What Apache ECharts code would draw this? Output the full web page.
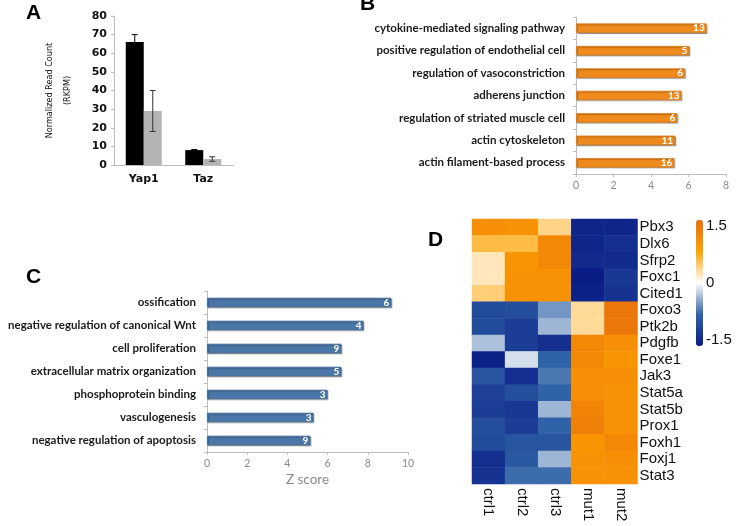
<!DOCTYPE html>
<html>
<head>
<meta charset="utf-8">
<script src="https://cdn.jsdelivr.net/npm/echarts@6/dist/echarts.min.js"></script>
<style>
  html, body { margin: 0; padding: 0; background: #fff; }
  #main { width: 736px; height: 526px; }
</style>
</head>
<body>
<div id="main"></div>
<script>
// Panel A: read counts
const genesA = ['Yap1', 'Taz']
const ctrlCounts = [66, 8]
const mutCounts = [29, 3.2]
const ctrlErr = [4, 0.3]
const mutErr = [11, 1.2]

// Panel B: GO terms (up), z score and gene counts
const termsB = ['cytokine-mediated signaling pathway', 'positive regulation of endothelial cell', 'regulation of vasoconstriction', 'adherens junction', 'regulation of striated muscle cell', 'actin cytoskeleton', 'actin filament-based process']
const zB = [6.97, 6.04, 5.81, 5.63, 5.40, 5.28, 5.24]
const countsB = [13, 5, 6, 13, 6, 11, 16]

// Panel C: GO terms (down)
const termsC = ['ossification', 'negative regulation of canonical Wnt', 'cell proliferation', 'extracellular matrix organization', 'phosphoprotein binding', 'vasculogenesis', 'negative regulation of apoptosis']
const zC = [9.17, 7.79, 6.68, 6.68, 6.0, 5.30, 5.14]
const countsC = [6, 4, 9, 5, 3, 3, 9]

// Panel D: heatmap
const samples = ['ctrl1', 'ctrl2', 'ctrl3', 'mut1', 'mut2']
const genesD = ['Pbx3', 'Dlx6', 'Sfrp2', 'Foxc1', 'Cited1', 'Foxo3', 'Ptk2b', 'Pdgfb', 'Foxe1', 'Jak3', 'Stat5a', 'Stat5b', 'Prox1', 'Foxh1', 'Foxj1', 'Stat3']
const heatValues = [
  [1.05, 1.0, 0.35, -1.4, -1.4],
  [0.55, 0.55, 1.15, -1.4, -1.3],
  [0.2, 0.95, 1.15, -1.35, -1.35],
  [0.2, 1.0, 1.0, -1.5, -1.2],
  [0.4, 1.0, 1.0, -1.45, -1.25],
  [-1.0, -0.95, -0.5, 0.3, 1.4],
  [-1.0, -1.15, -0.35, 0.3, 1.4],
  [-0.3, -1.15, -1.3, 1.15, 1.05],
  [-1.45, -0.15, -0.75, 1.15, 0.95],
  [-0.9, -1.3, -0.65, 1.05, 1.05],
  [-1.1, -0.95, -0.75, 1.05, 1.0],
  [-1.15, -1.2, -0.35, 1.2, 1.0],
  [-0.95, -1.15, -0.75, 1.25, 1.0],
  [-1.0, -0.9, -0.9, 0.95, 1.15],
  [-1.3, -0.85, -0.35, 1.0, 1.05],
  [-1.25, -0.7, -0.7, 1.0, 1.0]
]
const colorbarMin = -1.5
const colorbarMax = 1.5

const heatData = []
heatValues.forEach((row, r) => row.forEach((v, c) => heatData.push([c, r, v])))

const errCtrl = genesA.map((g, i) => [i, ctrlCounts[i] - ctrlErr[i], ctrlCounts[i] + ctrlErr[i]])
const errMut = genesA.map((g, i) => [i, mutCounts[i] - mutErr[i], mutCounts[i] + mutErr[i]])

function errorBar(offset, color) {
  return function (params, api) {
    const x = api.value(0)
    const lo = api.coord([x, api.value(1)])
    const hi = api.coord([x, api.value(2)])
    const cx = lo[0] + offset
    const cap = 3
    const style = { stroke: color, lineWidth: 1 }
    return {
      type: 'group',
      children: [
        { type: 'line', shape: { x1: cx, y1: lo[1], x2: cx, y2: hi[1] }, style },
        { type: 'line', shape: { x1: cx - cap, y1: lo[1], x2: cx + cap, y2: lo[1] }, style },
        { type: 'line', shape: { x1: cx - cap, y1: hi[1], x2: cx + cap, y2: hi[1] }, style }
      ]
    }
  }
}

const goFont = 'Lato, "Open Sans", sans-serif'
const termLabel = { color: '#1a1a1a', fontFamily: goFont, fontWeight: 'bold', fontSize: 11.5, margin: 11 }
const tickLabel = { color: '#8a8a8a', fontFamily: goFont, fontSize: 10.5, margin: 6 }
const grayLine = { lineStyle: { color: '#bdbdbd', width: 1 } }
const letter = { fontFamily: 'Liberation Sans, Arial, sans-serif', fontWeight: 'bold', fontSize: 21, color: '#000' }
const arial = 'Liberation Sans, Arial, sans-serif'

const myChart = echarts.init(document.getElementById('main'))
const option = {
  backgroundColor: '#fff',
  animation: false,
  title: [
    { text: 'A', left: 26, top: 3, textStyle: letter, padding: 0 },
    { text: 'B', left: 360, top: -6, textStyle: letter, padding: 0 },
    { text: 'C', left: 26, top: 267, textStyle: letter, padding: 0 },
    { text: 'D', left: 428, top: 230, textStyle: letter, padding: 0 }
  ],
  grid: [
    { left: 114, top: 16, width: 119, height: 149 },
    { left: 576, top: 17, width: 150, height: 157 },
    { left: 207, top: 291, width: 201, height: 161 },
    { left: 472, top: 219, width: 165.5, height: 265 },
    { left: 696, top: 226, width: 7, height: 114 }
  ],
  visualMap: {
    type: 'continuous',
    min: colorbarMin,
    max: colorbarMax,
    seriesIndex: 6,
    orient: 'vertical',
    left: 696,
    top: 220,
    itemWidth: 7,
    itemHeight: 126,
    padding: 0,
    calculable: false,
    showLabel: false,
    text: null,
    inRange: { color: ['#0a1c86', '#2f62a6', '#ffffff', '#ffa300', '#e8700c'] }
  },
  xAxis: [
    {
      gridIndex: 0, type: 'category', data: genesA,
      axisLine: grayLine, axisTick: { show: false },
      axisLabel: { color: '#111', fontFamily: 'DejaVu Sans', fontWeight: 'bold', fontSize: 11, margin: 9 }
    },
    {
      gridIndex: 1, type: 'value', min: 0, max: 8, interval: 2,
      axisLine: { show: true, ...grayLine }, axisTick: { show: true, length: 3, ...grayLine },
      splitLine: { show: false }, axisLabel: tickLabel
    },
    {
      gridIndex: 2, type: 'value', min: 0, max: 10, interval: 2,
      axisLine: { show: true, ...grayLine }, axisTick: { show: true, length: 3, ...grayLine },
      splitLine: { show: false }, axisLabel: tickLabel,
      name: 'Z score', nameLocation: 'middle', nameGap: 21,
      nameTextStyle: { color: '#8a8a8a', fontFamily: goFont, fontSize: 13.5 }
    },
    {
      gridIndex: 3, type: 'category', data: samples,
      axisLine: { show: false }, axisTick: { show: false }, splitArea: { show: false },
      axisLabel: { color: '#111', fontFamily: arial, fontSize: 15, rotate: -90, margin: 4, interval: 0 }
    },
    { gridIndex: 4, type: 'value', show: false, min: 0, max: 1 }
  ],
  yAxis: [
    {
      gridIndex: 0, type: 'value', min: 0, max: 80, interval: 10,
      axisLine: { show: true, ...grayLine }, axisTick: { show: true, length: 3, ...grayLine },
      splitLine: { show: false },
      axisLabel: { color: '#111', fontFamily: 'DejaVu Sans', fontWeight: 'bold', fontSize: 11, margin: 7 },
      name: 'Normalized Read Count\n(RKPM)', nameLocation: 'middle', nameGap: 37,
      nameTextStyle: { color: '#111', fontFamily: '"Liberation Sans Narrow", "DejaVu Sans Condensed", "Liberation Sans", Arial', fontSize: 9, lineHeight: 18 }
    },
    {
      gridIndex: 1, type: 'category', data: termsB, inverse: true,
      axisLine: { show: true, ...grayLine }, axisTick: { show: true, length: 3, ...grayLine },
      axisLabel: termLabel
    },
    {
      gridIndex: 2, type: 'category', data: termsC, inverse: true,
      axisLine: { show: true, ...grayLine }, axisTick: { show: true, length: 3, ...grayLine },
      axisLabel: termLabel
    },
    {
      gridIndex: 3, type: 'category', data: genesD, inverse: true, position: 'right',
      axisLine: { show: false }, axisTick: { show: false }, splitArea: { show: false },
      axisLabel: { color: '#111', fontFamily: arial, fontSize: 15, margin: 2, interval: 0 }
    },
    {
      gridIndex: 4, type: 'value', position: 'right', min: colorbarMin, max: colorbarMax, interval: 1.5,
      axisLine: { show: false }, axisTick: { show: false }, splitLine: { show: false },
      axisLabel: { color: '#111', fontFamily: arial, fontSize: 15, margin: 3 }
    }
  ],
  series: [
    {
      type: 'bar', xAxisIndex: 0, yAxisIndex: 0, data: ctrlCounts, barWidth: 18, barGap: 0,
      itemStyle: { color: '#000' }
    },
    {
      type: 'bar', xAxisIndex: 0, yAxisIndex: 0, data: mutCounts, barWidth: 18, barGap: 0,
      itemStyle: { color: '#b4b4b4' }
    },
    {
      type: 'custom', xAxisIndex: 0, yAxisIndex: 0, data: errCtrl, z: 5,
      encode: { x: 0, y: [1, 2] }, renderItem: errorBar(-9, '#000')
    },
    {
      type: 'custom', xAxisIndex: 0, yAxisIndex: 0, data: errMut, z: 5,
      encode: { x: 0, y: [1, 2] }, renderItem: errorBar(9, '#333')
    },
    {
      type: 'bar', xAxisIndex: 1, yAxisIndex: 1, data: zB, barWidth: 9.5,
      itemStyle: { color: '#ef8a1d', borderColor: '#dc7812', borderWidth: 0.8, shadowColor: 'rgba(0,0,0,0.3)', shadowOffsetX: 1, shadowOffsetY: 1, shadowBlur: 1 },
      label: {
        show: true, position: 'insideRight', distance: 2, color: '#fff', fontFamily: goFont, fontWeight: 'bold', fontSize: 10,
        formatter: p => countsB[p.dataIndex]
      }
    },
    {
      type: 'bar', xAxisIndex: 2, yAxisIndex: 2, data: zC, barWidth: 9.5,
      itemStyle: { color: '#4a76a8', borderColor: '#3a6492', borderWidth: 0.8, shadowColor: 'rgba(0,0,0,0.3)', shadowOffsetX: 1, shadowOffsetY: 1, shadowBlur: 1 },
      label: {
        show: true, position: 'insideRight', distance: 2, color: '#fff', fontFamily: goFont, fontWeight: 'bold', fontSize: 10,
        formatter: p => countsC[p.dataIndex]
      }
    },
    {
      type: 'heatmap', xAxisIndex: 3, yAxisIndex: 3, data: heatData,
      itemStyle: { borderWidth: 0 }
    }
  ]
}
myChart.setOption(option, true)
</script>
</body>
</html>
